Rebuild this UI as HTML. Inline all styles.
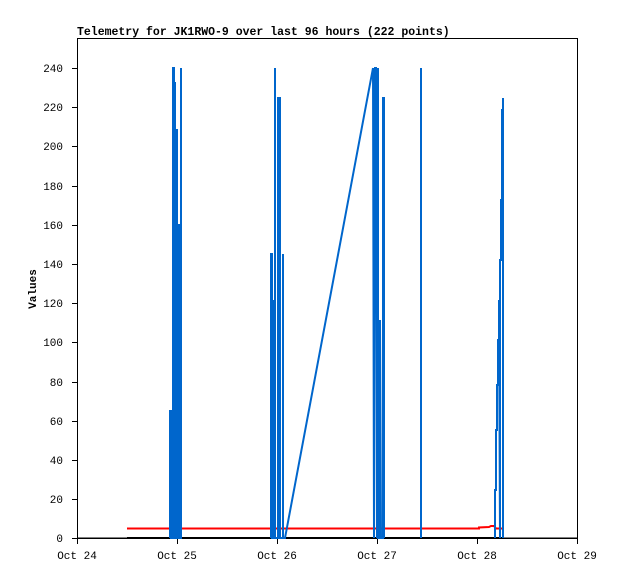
<!DOCTYPE html>
<html><head><style>
html,body{margin:0;padding:0;background:#fff;}
svg{display:block;}
text{font-family:"Liberation Mono","DejaVu Sans Mono",monospace;font-size:11px;fill:#000;}
</style></head><body>
<svg width="618" height="579" viewBox="0 0 618 579" xmlns="http://www.w3.org/2000/svg">
<text x="77" y="35" style="font-weight:bold;font-size:11.5px">Telemetry for JK1RWO-9 over last 96 hours (222 points)</text>
<rect x="77.5" y="38.5" width="500" height="499.5" fill="none" stroke="#000" stroke-width="1"/>
<line x1="77" y1="538.5" x2="578" y2="538.5" stroke="#000" stroke-width="1"/>
<g stroke="#000" stroke-width="1">
<line x1="72" y1="538.5" x2="77" y2="538.5"/><line x1="72" y1="499.5" x2="77" y2="499.5"/>
<line x1="72" y1="460.5" x2="77" y2="460.5"/><line x1="72" y1="421.5" x2="77" y2="421.5"/>
<line x1="72" y1="382.5" x2="77" y2="382.5"/><line x1="72" y1="342.5" x2="77" y2="342.5"/>
<line x1="72" y1="303.5" x2="77" y2="303.5"/><line x1="72" y1="264.5" x2="77" y2="264.5"/>
<line x1="72" y1="225.5" x2="77" y2="225.5"/><line x1="72" y1="186.5" x2="77" y2="186.5"/>
<line x1="72" y1="146.5" x2="77" y2="146.5"/><line x1="72" y1="107.5" x2="77" y2="107.5"/>
<line x1="72" y1="68.5" x2="77" y2="68.5"/>
<line x1="77.5" y1="538" x2="77.5" y2="544"/><line x1="177.5" y1="538" x2="177.5" y2="544"/>
<line x1="277.5" y1="538" x2="277.5" y2="544"/><line x1="377.5" y1="538" x2="377.5" y2="544"/>
<line x1="477.5" y1="538" x2="477.5" y2="544"/><line x1="577.5" y1="538" x2="577.5" y2="544"/>
</g>
<g text-anchor="end">
<text x="63" y="542">0</text><text x="63" y="503">20</text><text x="63" y="464">40</text>
<text x="63" y="425">60</text><text x="63" y="386">80</text><text x="63" y="346">100</text>
<text x="63" y="307">120</text><text x="63" y="268">140</text><text x="63" y="229">160</text>
<text x="63" y="190">180</text><text x="63" y="150">200</text><text x="63" y="111">220</text>
<text x="63" y="72">240</text>
</g>
<g text-anchor="middle">
<text x="77" y="559">Oct 24</text><text x="177" y="559">Oct 25</text><text x="277" y="559">Oct 26</text>
<text x="377" y="559">Oct 27</text><text x="477" y="559">Oct 28</text><text x="577" y="559">Oct 29</text>
</g>
<text x="36" y="289" text-anchor="middle" transform="rotate(-90 36 289)" style="font-weight:bold">Values</text>
<polyline fill="none" stroke="#f00" stroke-width="2" points="127,528.5 479,528.5 479,527.5 489,527 491,526 494,526 496,528.5 503,528.5"/>
<line x1="127" y1="538" x2="503" y2="538" stroke="#000" stroke-width="2"/>
<g stroke="#0066cc" stroke-width="2" fill="none">
<polyline points="170,538 170,411 171,411 171,538 173,538 173,68 174,68 174,83 175,83 175,538 176,538 176,130 177,130 177,538 178,538 178,225 179,225 179,538 181,538 181,68 181,538"/>
<polyline points="271,538 271,254 272,254 272,538 273,538 273,301 274,301 274,538 275,538 275,68 275,538 278,538 278,98 280,98 280,538 283,538 283,254 283,538 285,538 373,68"/>
<polyline points="373,68 374,538 375,68 376,68 376,98 377,538 377,225 378,68 378,538 380,538 380,320 381,538 383,538 383,98 384,98 384,538"/>
<polyline points="421,538 421,68 421,538"/>
<polyline points="495,538 495,490 496,490 496,430 497,430 497,385 498,385 498,340 499,340 499,300 500,538 500,260 501,260 501,200 502,200 502,110 503,110 503,98 503,538"/>
</g>
</svg>
</body></html>
